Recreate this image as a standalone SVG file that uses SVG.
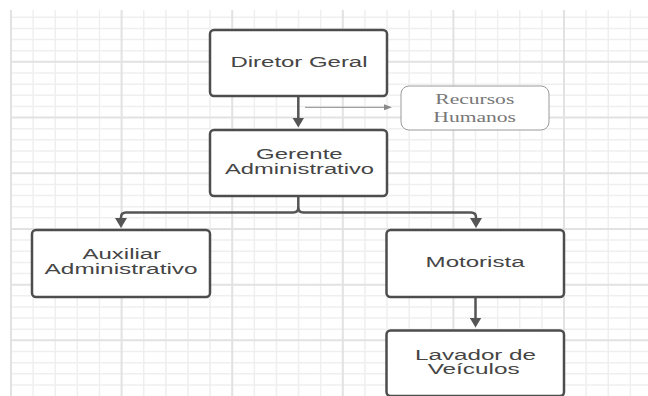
<svg xmlns="http://www.w3.org/2000/svg" width="648" height="396" viewBox="0 0 648 396">
<style>
.gmin{fill:none;stroke:#efefef;stroke-width:1.5}
.gmaj{fill:none;stroke:#e2e2e2;stroke-width:2}
.box{fill:#ffffff;stroke:#4d4d4d;stroke-width:2.5}
.rh{fill:#ffffff;stroke:#9a9a9a;stroke-width:1}
.t{font-family:"Liberation Sans",Arial,sans-serif;font-size:14px;fill:#454545}
.ts{font-family:"Liberation Serif","Times New Roman",serif;font-size:15px;fill:#777777}
.c{fill:none;stroke:#555555;stroke-width:2.5}
.ct{fill:none;stroke:#8a8a8a;stroke-width:1}
</style>
<defs>
<marker id="ah" viewBox="0 0 10 12" refX="5" refY="6" markerWidth="10" markerHeight="12" markerUnits="userSpaceOnUse" orient="auto">
<path d="M0,0 L10,6 L0,12 z" fill="#555555"/>
</marker>
<marker id="aht" viewBox="0 0 8 6" refX="4" refY="3" markerWidth="8" markerHeight="6" markerUnits="userSpaceOnUse" orient="auto">
<path d="M0,0 L8,3 L0,6 z" fill="#8a8a8a"/>
</marker>
</defs>
<rect width="648" height="396" fill="#ffffff"/>
<g id="grid">
<path class="gmin" d="M11 17.3H648M11 28.44H648M11 39.58H648M11 50.72H648M11 73H648M11 84.14H648M11 95.28H648M11 106.42H648M11 128.7H648M11 139.84H648M11 150.98H648M11 162.12H648M11 184.4H648M11 195.54H648M11 206.68H648M11 217.82H648M11 240.1H648M11 251.24H648M11 262.38H648M11 273.52H648M11 295.8H648M11 306.94H648M11 318.08H648M11 329.22H648M11 351.5H648M11 362.64H648M11 373.78H648M11 384.92H648"/>
<path class="gmin" d="M33.12 10V396M55.24 10V396M77.36 10V396M99.48 10V396M143.72 10V396M165.84 10V396M187.96 10V396M210.08 10V396M254.32 10V396M276.44 10V396M298.56 10V396M320.68 10V396M364.92 10V396M387.04 10V396M409.16 10V396M431.28 10V396M475.52 10V396M497.64 10V396M519.76 10V396M541.88 10V396M586.12 10V396M608.24 10V396M630.36 10V396"/>
<path class="gmaj" d="M11 61.86H648M11 117.56H648M11 173.26H648M11 228.96H648M11 284.66H648M11 340.36H648M11 10V396M121.6 10V396M232.2 10V396M342.8 10V396M453.4 10V396M564 10V396"/>
</g>
<g id="connectors">
<path class="c" d="M298.3 96V122.5" marker-end="url(#ah)"/>
<path class="ct" d="M305 107.3H388" marker-end="url(#aht)"/>
<path class="c" d="M298.3 196V207.5Q298.3 212.5 293.3 212.5H126Q121 212.5 121 217.5V223" marker-end="url(#ah)"/>
<path class="c" d="M298.3 207.5Q298.3 212.5 303.3 212.5H471Q476 212.5 476 217.5V223" marker-end="url(#ah)"/>
<path class="c" d="M475.5 297V322.5" marker-end="url(#ah)"/>
</g>
<g id="diretor">
<rect class="box" x="210" y="30" width="177" height="66" rx="4"/>
<text class="t" x="230.5" y="67.3" textLength="137" lengthAdjust="spacingAndGlyphs">Diretor Geral</text>
</g>
<g id="rh">
<rect class="rh" x="401" y="86" width="148" height="44" rx="8"/>
<text class="ts" x="435.3" y="104" textLength="79" lengthAdjust="spacingAndGlyphs">Recursos</text>
<text class="ts" x="433.3" y="121.7" textLength="82.7" lengthAdjust="spacingAndGlyphs">Humanos</text>
</g>
<g id="gerente">
<rect class="box" x="210" y="130" width="177" height="66" rx="4"/>
<text class="t" x="256" y="159.3" textLength="86.7" lengthAdjust="spacingAndGlyphs">Gerente</text>
<text class="t" x="225" y="174" textLength="149" lengthAdjust="spacingAndGlyphs">Administrativo</text>
</g>
<g id="auxiliar">
<rect class="box" x="32" y="230" width="178" height="67" rx="4"/>
<text class="t" x="82.6" y="259.3" textLength="78.5" lengthAdjust="spacingAndGlyphs">Auxiliar</text>
<text class="t" x="44.6" y="274.3" textLength="153" lengthAdjust="spacingAndGlyphs">Administrativo</text>
</g>
<g id="motorista">
<rect class="box" x="386.5" y="230" width="177.5" height="67" rx="4"/>
<text class="t" x="425.6" y="267" textLength="99" lengthAdjust="spacingAndGlyphs">Motorista</text>
</g>
<g id="lavador">
<rect class="box" x="386.5" y="330.5" width="177.5" height="65.5" rx="4"/>
<text class="t" x="415" y="360.3" textLength="121" lengthAdjust="spacingAndGlyphs">Lavador de</text>
<text class="t" x="427.7" y="373.7" textLength="92" lengthAdjust="spacingAndGlyphs">Veículos</text>
</g>
</svg>
